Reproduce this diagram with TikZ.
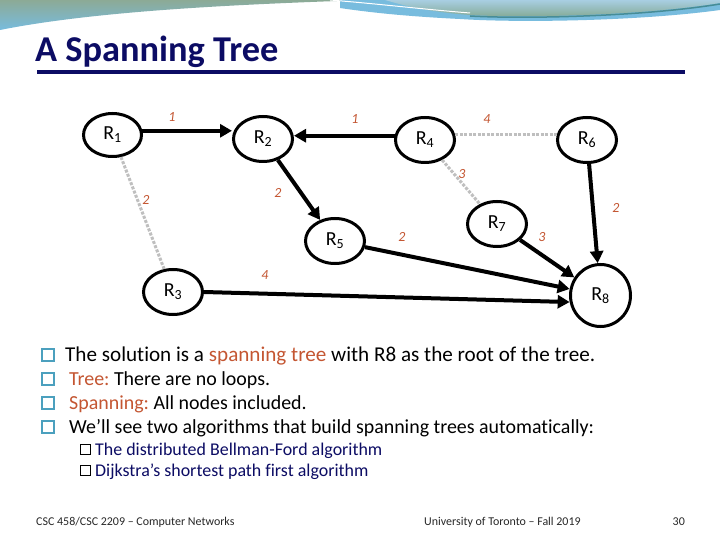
\documentclass[tikz,border=0pt]{standalone}
\usepackage{fontspec}
\setmainfont{Carlito}[Ligatures=NoCommon]
\frenchspacing
\usetikzlibrary{arrows.meta,shapes.geometric}
\definecolor{navy}{RGB}{12,12,100}
\definecolor{accent}{RGB}{196,86,50}
\definecolor{bulletblue}{RGB}{75,160,190}
\definecolor{edgegray}{RGB}{191,191,191}
\definecolor{waveA}{RGB}{140,170,150}
\definecolor{waveB}{RGB}{120,188,222}
\definecolor{waveC}{RGB}{168,206,226}
\definecolor{waveD}{RGB}{130,168,145}
\definecolor{waveE}{RGB}{70,140,150}
\definecolor{footgray}{RGB}{40,40,40}
\begin{document}
\begin{tikzpicture}[x=1bp,y=-1bp,
  rnode/.style={ellipse, draw=black, line width=3bp, minimum width=59bp, minimum height=45bp, inner sep=0pt, font=\fontsize{20}{24}\selectfont},
  edge/.style={line width=4bp, -{Triangle[length=12bp,width=13bp]}},
  ghost/.style={draw=edgegray, line width=3bp, dash pattern=on 3bp off 1.5bp},
  wlabel/.style={font=\fontsize{14}{16}\selectfont\itshape, text=accent, inner sep=0pt},
  bodytext/.style={anchor=base west, inner sep=0pt, font=\fontsize{20}{24}\selectfont},
  subtext/.style={anchor=base west, inner sep=0pt, text=navy, font=\fontsize{18}{21}\selectfont},
  bulletbox/.style={draw=bulletblue, line width=1.5bp, minimum size=12bp, inner sep=0pt},
  subbox/.style={draw=black, line width=0.9bp, minimum size=10bp, inner sep=0pt},
  foot/.style={anchor=base west, inner sep=0pt, text=footgray, font=\fontsize{12}{14}\selectfont}]
\useasboundingbox (0,0) rectangle (720,540);
\fill[white] (0,0) rectangle (720,540);
% top wave
\shade[top color=waveA, bottom color=waveB] (0,0) -- (365,0) .. controls (250,4) and (100,10) .. (0,30) -- cycle;
\fill[waveB] (340,0) -- (720,0) -- (720,10) .. controls (640,21) and (520,23) .. (460,19) .. controls (420,17) and (380,14) .. (340,8) -- cycle;
\shade[top color=waveC, bottom color=waveD] (385,0) -- (720,0) -- (720,3) .. controls (640,16) and (520,18) .. (470,15) .. controls (430,12) and (405,6) .. (385,0) -- cycle;
\draw[waveE, line width=1.5bp] (720,4) .. controls (640,17) and (520,19) .. (470,16);
\draw[white, line width=1bp] (330,0) .. controls (380,4) and (420,9) .. (470,13);
% title
\node[anchor=base west, inner sep=0pt, text=navy, font=\fontsize{36.5}{40}\selectfont\bfseries] (title) at (35,62) {A Spanning Tree};
\draw[navy, line width=3.5bp] (37,72) -- (685,72);
% nodes
\node[rnode, minimum width=58bp, minimum height=43bp] (R1) at (112.5,135) {R\textsubscript{1}};
\node[rnode] (R2) at (263,139) {R\textsubscript{2}};
\node[rnode] (R4) at (425,140) {R\textsubscript{4}};
\node[rnode] (R6) at (587,140) {R\textsubscript{6}};
\node[rnode] (R5) at (335,241) {R\textsubscript{5}};
\node[rnode] (R7) at (497,224) {R\textsubscript{7}};
\node[rnode] (R3) at (173,292) {R\textsubscript{3}};
\node[rnode, minimum width=60bp, minimum height=62bp] (R8) at (600.5,295.5) {R\textsubscript{8}};
% edges
\draw[ghost] (R1) -- (R3);
\draw[ghost] (R4.10) -- (R6.170);
\draw[ghost] (R4) -- (R7);
\draw[edge] (R1.8) -- (R1.8 -| R2.west);
\draw[edge] (R4.172) -- (R4.172 -| R2.east);
\draw[edge] (R2) -- (R5);
\draw[edge] (R6) -- (R8);
\draw[edge] (R7) -- (R8);
\draw[edge] (R5) -- (R8.168);
\draw[edge] (R3.east) -- (R8.192);
% weights
\node[wlabel] (w12) at (172,117) {1};
\node[wlabel] (w42) at (355,119) {1};
\node[wlabel] (w46) at (487,119) {4};
\node[wlabel] (w13) at (146,200) {2};
\node[wlabel] (w25) at (278,193) {2};
\node[wlabel] (w47) at (462,174) {3};
\node[wlabel] (w68) at (616,208) {2};
\node[wlabel] (w58) at (402,237) {2};
\node[wlabel] (w78) at (542,237) {3};
\node[wlabel] (w38) at (265,275) {4};
% bullets
\node[bulletbox] (b1) at (48,355) {};
\node[bulletbox] (b2) at (48,379) {};
\node[bulletbox] (b3) at (48,403) {};
\node[bulletbox] (b4) at (48,427) {};
\node[bodytext, font=\fontsize{21.2}{25}\selectfont] (t1) at (65,361) {The solution is a \textcolor{accent}{spanning tree} with R8 as the root of the tree.};
\node[bodytext] (t2) at (69,385) {\textcolor{accent}{Tree:} There are no loops.};
\node[bodytext] (t3) at (69,409) {\textcolor{accent}{Spanning:} All nodes included.};
\node[bodytext] (t4) at (69,433) {We’ll see two algorithms that build spanning trees automatically:};
\node[subbox] (s1) at (85,449) {};
\node[subbox] (s2) at (85,470) {};
\node[subtext] (u1) at (95,455) {The distributed Bellman-Ford algorithm};
\node[subtext] (u2) at (95,476) {Dijkstra’s shortest path first algorithm};
% footer
\node[foot] (f1) at (36,525) {CSC 458/CSC 2209 – Computer Networks};
\node[foot] (f2) at (424,525) {University of Toronto – Fall 2019};
\node[foot, anchor=base east] (f3) at (685,525) {30};
\end{tikzpicture}
\end{document}
